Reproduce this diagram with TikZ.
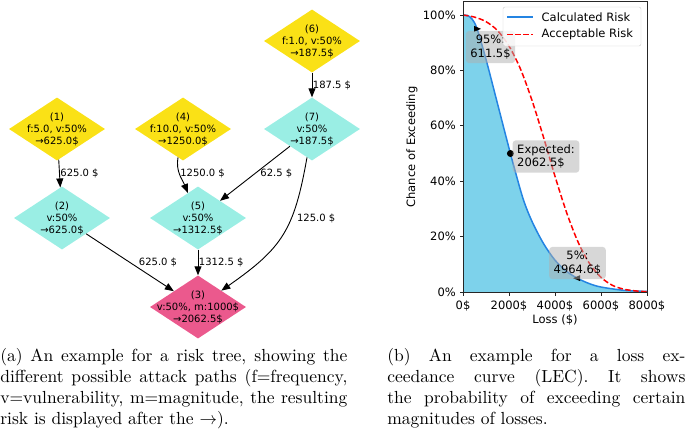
\documentclass[tikz,border=0pt]{standalone}
\usepackage{fontspec}
\newfontfamily\dejavu{DejaVu Sans}
\usepackage{tikz}
\usetikzlibrary{arrows.meta,shapes.geometric}
\definecolor{leafyellow}{RGB}{250,225,22}
\definecolor{gatecyan}{RGB}{154,238,228}
\definecolor{assetpink}{RGB}{235,89,141}
\definecolor{calcblue}{RGB}{36,132,226}
\definecolor{calcfill}{RGB}{125,210,235}
\definecolor{boxgray}{RGB}{175,175,175}

\begin{document}
\begin{tikzpicture}[
  x=1pt,
  y=-1pt,
  riskbox/.style={shape=diamond, draw=none, minimum width=96pt, minimum height=63pt, inner sep=0pt},
  nodetext/.style={font=\dejavu\fontsize{10}{12}\selectfont, align=center, inner sep=0pt},
  cost/.style={font=\dejavu\fontsize{10}{12}\selectfont, inner sep=0.5pt, anchor=west},
  link/.style={draw=black, line width=0.9pt, -{Triangle[length=9pt,width=7pt]}},
  plottext/.style={font=\dejavu\fontsize{11.5}{13.8}\selectfont, inner sep=0pt},
  notebox/.style={plottext, fill=boxgray, fill opacity=0.5, text opacity=1, rounded corners=3pt, inner xsep=4.5pt, inner ysep=4pt, align=center},
  caption/.style={font=\fontsize{10}{12}\selectfont, align=justify, inner sep=0pt, anchor=north west, transform shape, scale=1.75},
  calcline/.style={draw=calcblue, line width=1.5pt},
  accline/.style={draw=red, line width=1.5pt, dash pattern=on 5.5pt off 2.5pt},
  frame/.style={draw=black!85, line width=0.8pt}
]
\useasboundingbox (0,0) rectangle (685,437);

% risk tree
\foreach \id/\col/\px/\py/\txt in {
6/leafyellow/312/41/{f:1.0, v:50\%\\→187.5\$},
1/leafyellow/57/129/{f:5.0, v:50\%\\→625.0\$},
4/leafyellow/183/129/{f:10.0, v:50\%\\→1250.0\$},
7/gatecyan/312/129/{v:50\%\\→187.5\$},
2/gatecyan/62/218/{v:50\%\\→625.0\$},
5/gatecyan/198/218/{v:50\%\\→1312.5\$},
3/assetpink/198/307/{v:50\%, m:1000\$\\→2062.5\$}} {
  \node[riskbox, fill=\col] (n\id) at (\px,\py) {};
  \node[nodetext] (t\id) at (n\id) {(\id)\\\txt};
}
\draw[link] (n6) -- node[cost] (c67) {187.5 \$} (n7);
\draw[link] (n1) -- node[cost] (c12) {625.0 \$} (n2);
\draw[link] (n4) to[out=-100, in=112] node[cost, pos=0.45] (c45) {1250.0 \$} (n5);
\draw[link] (n7) -- node[cost, xshift=4.5pt] (c75) {62.5 \$} (n5);
\draw[link] (n7) to[out=-100, in=35, looseness=1.2] node[cost, pos=0.36, xshift=5pt] (c73) {125.0 \$} (n3);
\draw[link] (n2) -- node[cost, xshift=8pt] (c23) {625.0 \$} (n3);
\draw[link] (n5) -- node[cost] (c53) {1312.5 \$} (n3);

% loss exceedance curve
\begin{scope}[shift={(463,292)}, x=0.023pt, y=2.77pt]
  \fill[calcfill] plot[smooth] coordinates {(0,100) (200,99.8) (400,98.5) (611.5,95) (1000,84) (1500,68) (2062.5,50) (2600,34) (3000,25.5) (3500,17.5) (4000,11.5) (4500,7.5) (4964.6,5) (5500,3) (6000,1.8) (7000,0.6) (8000,0.2)} -- (8000,0) -- (0,0) -- cycle;
  \draw[calcline] plot[smooth] coordinates {(0,100) (200,99.8) (400,98.5) (611.5,95) (1000,84) (1500,68) (2062.5,50) (2600,34) (3000,25.5) (3500,17.5) (4000,11.5) (4500,7.5) (4964.6,5) (5500,3) (6000,1.8) (7000,0.6) (8000,0.2)};
  \draw[accline] plot[smooth] coordinates {(0,100) (500,99.25) (1000,97.6) (1500,94.4) (2000,88.8) (2500,80.5) (3000,69.2) (3500,55.9) (4000,41.8) (4500,28.8) (5000,18.1) (5500,10.3) (6000,5.3) (6500,2.4) (7000,1.0) (7500,0.4) (8000,0.1)};
  \draw[frame] (0,0) rectangle (8000,105);
  \foreach \x in {0,2000,...,8000} {
    \draw[frame] (\x,0) -- ++(0,-3.5pt);
    \node[plottext, anchor=base] (xt\x) at (\x,-6.14) {\x\$};
  }
  \foreach \y in {0,20,...,100} {
    \draw[frame] (0,\y) -- ++(-3.5pt,0);
    \node[plottext, anchor=east, xshift=-7pt] (yt\y) at (0,\y) {\y\%};
  }
  \fill[shift={(611.5,95)}] (-3pt,3pt) -- (4pt,0pt) -- (-3pt,-3pt) -- cycle;
  \node[circle, fill=black, inner sep=0pt, minimum size=7pt] (expdot) at (2062.5,50) {};
  \fill[shift={(4964.6,5)}] (3pt,3pt) -- (-4pt,0pt) -- (3pt,-3pt) -- cycle;
\end{scope}
\node[notebox] (q95) at (490.5,47) {95\%:\\611.5\$};
\node[notebox, align=left] (qexp) at (546,156.5) {Expected:\\2062.5\$};
\node[notebox] (q05) at (577.5,263) {5\%:\\4964.6\$};

% legend
\draw[draw=black!20, fill=white, fill opacity=0.8, rounded corners=2pt] (503,7) rectangle (641,46);
\draw[calcline] (507,17) -- (533,17);
\draw[accline] (507,34.3) -- (533,34.3);
\node[plottext, anchor=west] (lgcalc) at (541.5,17) {Calculated Risk};
\node[plottext, anchor=west] (lgacc) at (541.5,34.3) {Acceptable Risk};
\node[plottext, rotate=90] (ylab) at (412,147) {Chance of Exceeding};
\node[plottext] (xlab) at (555,320) {Loss (\$)};

% captions
\node[caption, text width=198.3pt] (capa) at (0,348) {(a) An example for a risk tree, showing the\linebreak different possible attack paths (f=frequency,\linebreak v=vulnerability, m=magnitude, the resulting\linebreak risk is displayed after the $\rightarrow$).};
\node[caption, text width=170.3pt] (capb) at (387,348) {(b) An example for a loss ex-\linebreak ceedance curve (LEC). It shows\linebreak the probability of exceeding certain\linebreak magnitudes of losses.};
\end{tikzpicture}
\end{document}
